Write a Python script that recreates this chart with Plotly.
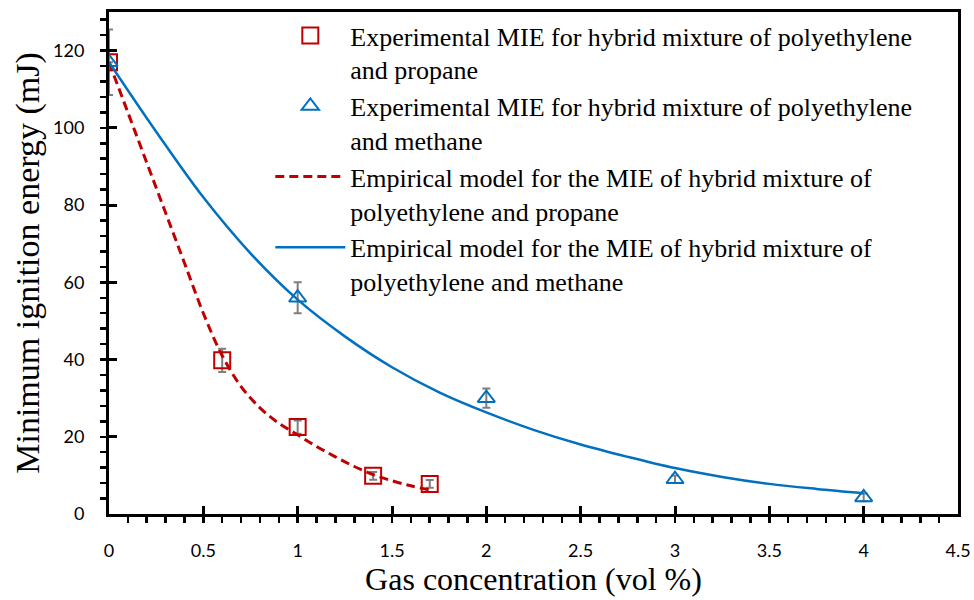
import plotly.graph_objects as go

# Experimental data
propane_x = [0, 0.6, 1.0, 1.4, 1.7]
propane_y = [117, 39.8, 22.5, 9.9, 7.8]
propane_err = [8.5, 3, 1.7, 1, 1]

methane_x = [0, 1, 2, 3, 4]
methane_y = [117, 56, 30, 9, 4.3]
methane_err = [0, 4, 2.5, 1, 1]

# Empirical model curves
model_propane_x = [0, 0.1, 0.2, 0.3, 0.4, 0.5, 0.6, 0.7, 0.8, 0.9, 1.0, 1.1, 1.2, 1.3, 1.4, 1.5, 1.6, 1.7]
model_propane_y = [117, 104, 91, 78, 65, 52, 41, 33, 27.5, 23.5, 20.5, 17.5, 14.8, 12.3, 10.2, 8.6, 7.3, 6.2]

model_methane_x = [0, 0.25, 0.5, 0.75, 1.0, 1.25, 1.5, 1.75, 2.0, 2.25, 2.5, 2.75, 3.0, 3.25, 3.5, 3.75, 4.0]
model_methane_y = [117, 99, 82, 67.5, 55.5, 46, 38, 31.5, 26.3, 21.8, 18.0, 14.8, 11.9, 9.6, 7.8, 6.5, 5.4]

names = [
    "Experimental MIE for hybrid mixture of polyethylene<br>and propane",
    "Experimental MIE for hybrid mixture of polyethylene<br>and methane",
    "Empirical model for the MIE of hybrid mixture of<br>polyethylene and propane",
    "Empirical model for the MIE of hybrid mixture of<br>polyethylene and methane",
]

RED = "#C00000"
BLUE = "#0070C0"
GRAY = "#7F7F7F"
SERIF = "Liberation Serif, Times New Roman, serif"
SANS = "Lato, Open Sans, sans-serif"

fig = go.Figure()
fig.add_trace(go.Scatter(
    x=propane_x, y=propane_y, mode="markers", name=names[0],
    marker=dict(symbol="square-open", size=16, color=RED, line=dict(width=2, color=RED)),
    error_y=dict(type="data", array=propane_err, color=GRAY, thickness=2, width=4),
))
fig.add_trace(go.Scatter(
    x=methane_x, y=methane_y, mode="markers", name=names[1],
    marker=dict(symbol="triangle-up-open", size=15, color=BLUE, line=dict(width=2, color=BLUE)),
    error_y=dict(type="data", array=methane_err, color=GRAY, thickness=2, width=4),
))
fig.add_trace(go.Scatter(
    x=model_propane_x, y=model_propane_y, mode="lines", name=names[2],
    line=dict(color=RED, width=3, dash="9px,5px", shape="spline"),
))
fig.add_trace(go.Scatter(
    x=model_methane_x, y=model_methane_y, mode="lines", name=names[3],
    line=dict(color=BLUE, width=2.5, shape="spline"),
))

fig.update_layout(
    width=974, height=600,
    margin=dict(l=109, r=16, t=12, b=86, autoexpand=False),
    plot_bgcolor="white", paper_bgcolor="white",
    showlegend=True,
    dragmode=False,
    legend=dict(
        x=0.19, y=1.0, xanchor="left", yanchor="top",
        font=dict(family=SERIF, size=26, color="black"),
        bgcolor="rgba(0,0,0,0)", valign="top", itemwidth=70,
        tracegroupgap=0,
    ),
    xaxis=dict(
        range=[0, 4.5], dtick=0.5, tick0=0, automargin=False,
        showgrid=False, zeroline=False,
        showline=True, linewidth=3, linecolor="black", mirror=True,
        ticks="inside", ticklen=8, tickwidth=3, tickcolor="black",
        minor=dict(dtick=0.1, ticks="outside", ticklen=6, tickwidth=2.5, tickcolor="black"),
        ticklabelstandoff=18,
        tickfont=dict(family=SANS, size=18, color="black"),
        title=dict(text="Gas concentration (vol %)", font=dict(family=SERIF, size=32, color="black"), standoff=8),
    ),
    yaxis=dict(
        range=[0, 130], dtick=20, tick0=0, automargin=False,
        showgrid=False, zeroline=False,
        showline=True, linewidth=3, linecolor="black", mirror=True,
        ticks="inside", ticklen=8, tickwidth=3, tickcolor="black",
        minor=dict(dtick=4, ticks="outside", ticklen=6, tickwidth=2.5, tickcolor="black"),
        ticklabelstandoff=18,
        tickfont=dict(family=SANS, size=18, color="black"),
        title=dict(text="Minimum ignition energy (mJ)", font=dict(family=SERIF, size=34, color="black"), standoff=4),
    ),
)

fig.write_html("out.html", config={"displayModeBar": False, "staticPlot": True},
               post_script="document.body.style.margin='0';document.body.style.padding='0';")
